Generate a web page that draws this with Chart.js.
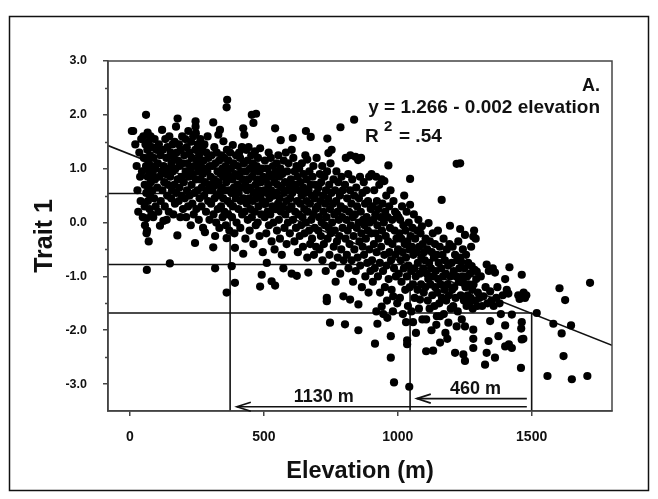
<!DOCTYPE html>
<html><head><meta charset="utf-8">
<script src="https://cdn.jsdelivr.net/npm/chart.js@4.4.1/dist/chart.umd.min.js"></script>
<style>html,body{margin:0;padding:0;background:#fff;}#wrap{position:relative;width:658px;height:499px;}</style>
</head><body><div id="wrap"><canvas id="c" width="658" height="499"></canvas></div>
<script>
// Elevation (m), Trait 1 pairs, grouped by elevation band
const band0 = [[7,1.70],[12,1.70],[20,1.45],[25,1.05],[28,0.60],[31,0.20],[35,1.30],[38,0.85],[40,0.40],[42,1.55],[45,0.95],[48,0.10],[50,1.60],[52,1.20],[55,0.70],[55,0.30],[56,-0.05],[58,1.45],[60,2.00],[60,1.05],[61,0.55],[62,0.08],[62,-0.20],[63,-0.88],[64,-0.15],[65,1.35],[66,1.67],[66,0.85],[67,0.40],[68,1.15],[69,0.65],[70,1.50],[70,-0.35],[72,0.95],[73,0.25],[75,1.25],[75,0.50],[77,1.60],[78,0.75],[80,1.05],[80,0.15],[82,1.40],[84,0.60],[85,0.90],[87,0.10],[88,1.20],[90,0.45],[92,1.55],[93,0.80],[95,1.00],[96,0.30],[98,1.35]];
const band1 = [[102,0.65],[104,1.10],[106,0.20],[108,1.45],[110,0.85],[112,-0.06],[114,1.25],[115,0.40],[118,0.95],[120,1.72],[121,0.60],[123,1.35],[125,0.03],[126,1.05],[128,0.75],[130,0.30],[132,1.55],[134,0.90],[136,1.20],[137,0.05],[139,0.50],[140,1.40],[142,0.70],[144,1.00],[145,0.20],[147,1.60],[149,-0.76],[150,0.85],[152,1.30],[154,0.45],[155,1.10],[157,0.60],[159,1.45],[160,0.95],[162,0.15],[164,1.20],[165,0.70],[167,1.50],[168,0.35],[170,1.00],[172,1.78],[173,0.55],[175,1.30],[177,-0.24],[178,1.93],[178,0.80],[180,1.15],[182,0.40],[183,1.45],[185,0.65],[186,1.05],[188,0.10],[190,1.35],[192,0.85],[194,0.50],[195,1.60],[197,1.10],[198,0.25]];
const band2 = [[201,0.75],[203,1.25],[205,0.45],[207,1.55],[208,0.95],[210,0.10],[212,1.40],[213,0.60],[215,1.10],[217,0.30],[218,1.70],[220,0.85],[222,1.30],[223,0.50],[225,1.00],[227,-0.05],[228,1.50],[230,0.70],[231,1.20],[233,0.35],[235,0.90],[236,1.60],[238,0.15],[240,1.05],[241,0.55],[243,-0.38],[244,1.35],[245,1.88],[245,1.78],[246,1.66],[246,0.80],[248,0.25],[250,1.15],[252,0.60],[253,1.45],[255,0.95],[257,0.05],[258,1.25],[260,0.45],[262,0.80],[263,1.55],[265,1.05],[267,0.30],[268,0.65],[270,1.35],[272,0.90],[273,-0.10],[275,1.15],[277,0.50],[278,1.45],[280,-0.18],[280,0.75],[282,1.00],[284,0.20],[285,1.30],[287,0.60],[289,0.95],[290,1.60],[292,0.40],[293,1.20],[295,0.70],[297,0.05],[298,1.05]];
const band3 = [[301,0.85],[303,0.35],[305,1.25],[307,0.60],[309,1.05],[311,1.86],[311,-0.46],[312,0.15],[314,0.80],[315,1.40],[316,0.45],[318,-0.25],[318,-0.85],[319,1.10],[320,0.70],[322,0.00],[324,1.30],[325,0.50],[327,0.95],[328,0.25],[330,1.63],[331,0.75],[333,1.15],[334,-0.10],[336,1.72],[336,0.55],[338,0.90],[340,0.30],[341,1.25],[343,0.65],[345,1.00],[346,0.10],[348,0.45],[349,1.51],[350,0.85],[352,1.20],[353,0.20],[355,0.60],[357,1.05],[358,-0.05],[360,0.75],[361,2.14],[361,-0.29],[361,-1.30],[362,1.35],[363,2.28],[364,0.40],[365,0.95],[367,0.15],[368,1.15],[370,0.60],[371,-0.15],[372,0.85],[374,1.30],[375,0.35],[377,1.00],[379,0.55],[380,-0.81],[381,0.10],[383,0.80],[384,1.44],[385,0.30],[387,1.10],[388,0.65],[390,-0.20],[392,-0.47],[392,-1.12],[393,0.90],[395,0.45],[396,1.25],[398,0.00]];
const band4 = [[401,0.70],[403,1.05],[405,0.25],[406,0.55],[408,1.30],[409,0.85],[411,1.20],[412,-0.10],[414,0.40],[415,0.95],[417,0.65],[418,1.40],[419,0.15],[421,0.80],[423,1.75],[423,-0.58],[424,0.45],[425,1.10],[427,1.63],[428,0.20],[430,0.70],[431,-0.30],[433,0.95],[434,1.35],[436,0.35],[437,0.60],[439,1.15],[440,0.05],[442,0.80],[443,1.40],[445,0.45],[447,-0.15],[448,1.00],[450,0.25],[451,0.65],[453,1.25],[455,2.00],[455,0.10],[456,0.85],[458,0.40],[459,1.10],[461,1.85],[461,-0.40],[462,0.55],[464,0.95],[466,0.20],[467,1.32],[469,0.70],[470,-0.05],[471,2.02],[472,0.45],[473,1.05],[475,0.80],[477,0.00],[478,1.20],[480,0.30],[481,0.60],[483,0.95],[484,-0.25],[486,1.38],[486,-1.19],[487,0.50],[489,0.75],[490,0.15],[492,-0.97],[493,1.00],[495,0.40],[496,-0.55],[498,0.85]];
const band5 = [[501,0.60],[503,0.10],[504,1.15],[506,0.35],[508,0.80],[509,-0.20],[511,-0.75],[511,0.55],[513,1.00],[514,0.20],[516,0.70],[518,1.30],[519,-0.05],[521,0.45],[522,0.90],[524,0.15],[526,1.20],[527,0.60],[529,-1.09],[529,-0.35],[531,0.85],[532,0.30],[534,1.05],[536,0.00],[537,0.50],[539,0.75],[540,-0.50],[542,1.75],[542,-1.17],[543,0.25],[545,0.95],[546,0.55],[548,1.10],[549,-0.15],[551,0.70],[553,0.35],[554,1.25],[556,0.05],[557,0.85],[559,0.45],[560,-0.30],[562,1.00],[563,1.53],[564,0.20],[566,0.65],[567,-0.60],[569,0.90],[571,0.30],[573,-0.85],[574,1.15],[575,0.55],[577,-0.10],[579,0.75],[580,0.15],[582,1.30],[584,0.40],[585,-0.40],[587,0.95],[589,0.60],[590,0.00],[592,1.10],[594,0.25],[595,0.70],[597,-0.20],[598,0.45]];
const band6 = [[601,0.80],[603,0.30],[604,1.35],[604,-0.95],[606,0.55],[608,1.57],[609,0.05],[610,1.20],[612,0.65],[614,-0.35],[615,0.95],[617,0.20],[619,0.70],[620,-0.10],[622,1.05],[623,-0.99],[624,0.40],[626,0.85],[627,-0.55],[629,0.15],[631,0.60],[632,1.00],[634,-0.25],[636,0.35],[637,0.75],[639,-0.05],[641,0.50],[642,1.10],[644,0.10],[646,-0.45],[647,0.65],[649,0.90],[651,0.25],[652,-0.20],[654,0.55],[655,1.25],[657,1.70],[657,0.00],[659,0.40],[660,0.80],[662,1.17],[662,-0.65],[664,0.20],[666,-0.93],[667,0.60],[669,-0.15],[670,0.95],[672,0.35],[673,-0.40],[675,1.59],[675,0.70],[677,0.05],[679,0.50],[680,-0.30],[682,0.85],[684,0.15],[685,1.05],[687,-0.60],[689,0.45],[690,-0.10],[692,0.70],[694,0.25],[695,-0.45],[697,1.20],[698,0.55]];
const band7 = [[701,0.30],[703,-0.15],[704,0.65],[706,0.10],[708,-0.50],[709,0.90],[711,0.40],[713,-0.25],[714,0.75],[716,0.00],[718,1.05],[719,-0.70],[721,0.50],[722,0.20],[724,-0.40],[726,0.85],[727,-0.05],[729,0.35],[731,-0.90],[732,0.60],[734,0.10],[735,-1.40],[735,-1.46],[736,0.95],[737,1.56],[738,-0.30],[740,0.45],[741,1.29],[742,-0.10],[744,0.70],[745,-0.60],[747,-1.86],[747,0.25],[749,1.10],[750,-0.20],[752,0.55],[753,1.35],[755,0.00],[757,-0.80],[758,0.35],[760,0.80],[761,-0.45],[763,0.15],[765,-0.15],[766,0.60],[768,-1.10],[770,0.40],[771,0.95],[773,-0.35],[775,0.20],[776,-0.65],[778,0.75],[780,0.05],[786,1.77],[782,-0.25],[784,0.50],[785,-0.95],[787,0.30],[789,-0.50],[790,0.85],[792,0.10],[794,-0.10],[795,0.60],[797,-1.37],[798,-0.70]];
const band8 = [[801,0.25],[803,-1.89],[803,0.70],[805,-0.30],[806,1.20],[808,0.05],[810,-0.60],[811,0.45],[813,-0.15],[815,0.90],[816,-0.85],[818,0.20],[820,-0.40],[822,-1.43],[822,0.60],[823,1.25],[825,-0.05],[827,0.35],[828,-0.70],[830,0.80],[832,0.10],[833,-1.10],[835,-0.25],[837,1.91],[837,0.50],[838,-0.50],[840,0.15],[842,1.22],[843,-0.90],[845,0.65],[847,-0.10],[848,0.30],[850,-0.65],[852,1.16],[853,-1.52],[853,-2.00],[854,0.00],[855,0.45],[857,-0.35],[859,0.85],[860,-0.80],[862,0.20],[863,1.20],[864,-0.20],[866,-1.20],[868,0.55],[869,-0.45],[871,0.05],[873,0.75],[874,-0.60],[876,-0.05],[878,0.35],[879,-1.00],[881,-0.30],[883,0.60],[884,0.10],[886,-0.75],[888,-0.15],[889,0.40],[891,-1.30],[893,0.85],[894,-0.50],[896,0.00],[898,-0.90],[899,0.25]];
const band9 = [[901,-0.20],[902,0.90],[904,-0.70],[906,0.30],[907,-1.10],[909,0.05],[911,-0.40],[912,0.60],[914,-0.85],[915,-2.25],[916,0.15],[917,-0.20],[919,0.85],[920,-1.65],[921,-0.55],[922,0.40],[924,-1.88],[924,-0.05],[926,-1.00],[928,0.25],[929,-0.30],[931,0.70],[933,-0.75],[934,-1.30],[936,0.10],[938,-0.45],[940,-1.56],[940,0.80],[941,-0.15],[943,0.35],[945,-0.90],[946,-1.70],[948,0.00],[950,0.77],[950,-0.60],[952,-1.20],[953,0.20],[955,-0.25],[957,0.50],[958,-0.80],[960,-1.45],[961,-1.77],[962,0.10],[964,-0.35],[965,1.06],[966,-1.05],[968,0.30],[969,-0.55],[971,-0.10],[973,0.60],[974,-2.11],[974,-2.51],[975,-0.70],[977,-1.25],[979,0.05],[980,-0.40],[982,-1.65],[983,-1.37],[984,0.40],[986,-2.97],[986,-0.85],[988,-0.15],[990,0.20],[991,-0.60],[993,-1.00],[995,-0.30],[997,0.15],[998,-1.50]];
const band10 = [[1001,-0.50],[1003,0.10],[1004,-0.95],[1006,-0.20],[1008,-1.40],[1009,0.05],[1011,-0.70],[1013,-0.30],[1014,-1.10],[1016,0.30],[1018,-0.55],[1019,-1.70],[1021,-0.05],[1023,-0.85],[1024,0.50],[1026,-0.40],[1028,-1.25],[1029,-0.15],[1031,-1.85],[1031,-0.65],[1033,0.20],[1034,-1.00],[1035,-2.19],[1035,-2.26],[1036,-0.35],[1038,-1.55],[1040,-0.80],[1041,0.00],[1043,-3.05],[1043,-0.50],[1045,-1.20],[1046,0.81],[1046,0.33],[1048,-0.25],[1050,-0.90],[1051,-1.65],[1053,-0.45],[1055,-0.10],[1057,-1.85],[1057,-1.15],[1058,-0.60],[1060,0.15],[1062,-0.85],[1063,-1.40],[1065,-0.30],[1067,-1.00],[1068,-2.05],[1070,-0.55],[1072,-0.15],[1074,-1.25],[1075,-0.75],[1077,0.05],[1079,-1.60],[1080,-0.45],[1082,-0.95],[1083,-1.43],[1085,-0.20],[1087,-1.15],[1088,-0.65],[1090,-0.07],[1092,-1.80],[1093,-0.40],[1095,-0.85],[1097,-1.30],[1098,-0.55]];
const band11 = [[1101,-0.70],[1103,-1.20],[1104,-0.30],[1106,-1.80],[1106,-2.39],[1108,-0.95],[1110,-0.50],[1112,-1.45],[1114,-1.05],[1115,-0.01],[1117,-0.75],[1119,-1.60],[1120,-0.35],[1122,-1.15],[1124,-0.85],[1126,-2.00],[1127,-0.55],[1129,-1.35],[1131,-0.20],[1132,-2.38],[1133,-1.00],[1135,-0.65],[1137,-1.55],[1139,-0.40],[1140,-1.20],[1142,-0.90],[1144,-1.90],[1146,-1.74],[1146,-0.60],[1148,-1.30],[1150,-0.15],[1151,-1.05],[1153,-0.75],[1155,-1.50],[1157,-0.45],[1158,-2.23],[1158,-1.74],[1160,-1.15],[1162,-0.85],[1164,0.42],[1165,-1.40],[1167,-0.60],[1169,-1.00],[1171,-0.30],[1172,-1.70],[1174,-1.25],[1176,-0.70],[1178,-2.05],[1179,-0.95],[1181,-1.45],[1183,-0.50],[1185,-2.16],[1186,-1.15],[1188,-0.80],[1189,-1.86],[1191,-1.35],[1193,-0.40],[1195,-0.06],[1196,-1.00],[1198,-1.60]];
const band12 = [[1201,-0.75],[1203,-1.25],[1205,-0.45],[1207,-1.55],[1209,-0.90],[1211,-1.20],[1214,-2.42],[1214,-0.60],[1216,-1.40],[1218,-1.00],[1220,1.09],[1220,-1.93],[1222,-0.70],[1224,-1.65],[1226,-0.35],[1228,-1.10],[1230,-0.85],[1233,1.10],[1233,-0.12],[1233,-0.65],[1235,-1.35],[1237,-0.73],[1239,-1.80],[1241,-1.00],[1243,-0.50],[1245,-1.12],[1245,-2.45],[1247,-1.45],[1249,-0.85],[1251,-0.23],[1251,-1.93],[1251,-2.57],[1253,-1.20],[1255,-0.60],[1257,-1.55],[1259,-1.00],[1261,-1.35],[1263,-0.75],[1265,-1.15],[1267,-1.50],[1270,-0.95],[1272,-1.40],[1274,-0.45],[1276,-0.81],[1278,-1.25],[1280,-1.60],[1282,-0.26],[1282,-1.99],[1282,-2.16],[1282,-2.33],[1283,-1.15],[1285,-0.15],[1287,-0.88],[1289,-1.45],[1291,-0.30],[1293,-1.05],[1295,-0.91],[1297,-1.55],[1299,-1.30]];
const band13 = [[1305,-1.40],[1310,-1.00],[1315,-1.55],[1320,-1.37],[1326,-2.64],[1328,-1.20],[1332,-0.78],[1332,-2.42],[1335,-1.50],[1339,-2.20],[1340,-0.90],[1345,-1.28],[1345,-1.83],[1350,-1.45],[1355,-0.85],[1358,-1.55],[1363,-0.93],[1363,-2.51],[1368,-1.40],[1372,-1.20],[1376,-2.11],[1380,-1.50],[1385,-1.70],[1392,-1.35]];
const band14 = [[1401,-1.05],[1401,-1.91],[1401,-2.30],[1407,-1.25],[1413,-1.32],[1417,-0.83],[1415,-2.26],[1426,-1.71],[1426,-2.33],[1450,-1.35],[1455,-1.42],[1460,-2.70],[1461,-1.97],[1463,-0.97],[1463,-1.85],[1463,-2.17],[1469,-2.16],[1470,-1.30],[1475,-1.40],[1480,-1.35]];
const band15 = [[1519,-1.68],[1559,-2.85],[1581,-1.88],[1604,-1.22],[1612,-2.06],[1619,-2.48],[1625,-1.44],[1647,-1.91],[1650,-2.91],[1708,-2.85],[1718,-1.12]];

const xTicks = [0, 500, 1000, 1500];
const yTicks = [-3, -2, -1, 0, 1, 2, 3];
const xRange = [-82, 1800];
const yRange = [-3.5, 3.0];

// regression line and read-off guide lines
const fitLine = [[-82, 1.43], [1800, -2.28]];
const guideA = [[-82, 0.54], [374, 0.54], [374, -3.5]];
const guideB = [[-82, -0.78], [1046, -0.78], [1046, -3.5]];
const guideC = [[-82, -1.68], [1500, -1.68], [1500, -3.5]];
// arrows: [start, tip] in data units
const arrowLong = [[1482, -3.42], [399, -3.42]];
const arrowShort = [[1482, -3.27], [1071, -3.27]];
const arrowLabels = [["1130 m", 724, -3.42], ["460 m", 1290, -3.27]];

const FONT = "'Liberation Sans', Arial, Helvetica, sans-serif";
const toXY = a => a.map(p => ({x: p[0], y: p[1]}));
const allPts = [].concat(band0, band1, band2, band3, band4, band5, band6, band7, band8, band9, band10, band11, band12, band13, band14, band15);

const lineDs = (d) => ({data: toXY(d), showLine: true, borderColor: '#111', borderWidth: 1.6, pointRadius: 0, fill: false, tension: 0});

const decor = {
  id: 'decor',
  afterDraw(chart) {
    const {ctx, chartArea: a, scales: {x, y}} = chart;
    ctx.save();
    // outer figure frame
    ctx.strokeStyle = '#111'; ctx.lineWidth = 1.5;
    ctx.strokeRect(9.5, 16.5, 639, 474);
    // plot box
    ctx.strokeStyle = '#444'; ctx.lineWidth = 1.5;
    ctx.strokeRect(a.left, a.top, a.right - a.left, a.bottom - a.top);
    // minor y ticks
    ctx.beginPath();
    for (let v = -2.5; v <= 2.5; v += 1) {
      const py = Math.round(y.getPixelForValue(v)) + 0.5;
      ctx.moveTo(a.left - 3, py); ctx.lineTo(a.left, py);
    }
    ctx.stroke();
    // arrowheads
    ctx.strokeStyle = '#111'; ctx.lineWidth = 1.6;
    [arrowLong, arrowShort].forEach(ar => {
      const tx = x.getPixelForValue(ar[1][0]), ty = y.getPixelForValue(ar[1][1]);
      ctx.beginPath();
      ctx.moveTo(tx + 14, ty - 4.5); ctx.lineTo(tx, ty); ctx.lineTo(tx + 14, ty + 4.5);
      ctx.stroke();
    });
    // arrow labels
    ctx.fillStyle = '#111';
    ctx.font = 'bold 18px ' + FONT;
    ctx.textAlign = 'center'; ctx.textBaseline = 'alphabetic';
    arrowLabels.forEach(l => {
      ctx.fillText(l[0], x.getPixelForValue(l[1]), y.getPixelForValue(l[2]) - 5);
    });
    // annotation
    ctx.textAlign = 'right';
    ctx.font = 'bold 18px ' + FONT;
    ctx.fillText('A.', 600, 91);
    ctx.font = 'bold 19px ' + FONT;
    ctx.fillText('y = 1.266 - 0.002 elevation', 600, 113);
    ctx.textAlign = 'left';
    ctx.fillText('R', 365, 142);
    ctx.font = 'bold 15px ' + FONT;
    ctx.fillText('2', 384, 131);
    ctx.font = 'bold 19px ' + FONT;
    ctx.fillText('= .54', 399, 142);
    ctx.restore();
  }
};

new Chart(document.getElementById('c'), {
  type: 'scatter',
  data: {
    datasets: [
      {data: toXY(allPts), pointRadius: 4.1, pointBackgroundColor: '#000', pointBorderWidth: 0, pointBorderColor: '#000', showLine: false},
      lineDs(fitLine), lineDs(guideA), lineDs(guideB), lineDs(guideC),
      lineDs(arrowLong), lineDs(arrowShort)
    ]
  },
  options: {
    responsive: false, animation: false, devicePixelRatio: 1,
    layout: {padding: {left: 0, right: 46, top: 61, bottom: 0}},
    plugins: {legend: {display: false}, tooltip: {enabled: false}},
    scales: {
      x: {
        type: 'linear', min: xRange[0], max: xRange[1],
        afterBuildTicks: s => { s.ticks = xTicks.map(v => ({value: v})); },
        afterFit: s => { s.height = 88; },
        ticks: {color: '#111', font: {family: FONT, size: 14, weight: 'bold'}, padding: 13, callback: v => String(v), maxRotation: 0},
        grid: {drawOnChartArea: false, drawTicks: true, tickLength: 5, color: '#444', lineWidth: 1.5},
        border: {display: true, color: '#444', width: 1.5},
        title: {display: true, text: 'Elevation (m)', color: '#111', font: {family: FONT, size: 23.5, weight: 'bold'}, padding: {top: 0, bottom: 13}}
      },
      y: {
        type: 'linear', min: yRange[0], max: yRange[1],
        afterBuildTicks: s => { s.ticks = yTicks.map(v => ({value: v})); },
        afterFit: s => { s.width = 108; },
        ticks: {color: '#111', font: {family: FONT, size: 12.5, weight: 'bold'}, padding: 16, callback: v => v.toFixed(1)},
        grid: {drawOnChartArea: false, drawTicks: true, tickLength: 5, color: '#444', lineWidth: 1.5},
        border: {display: true, color: '#444', width: 1.5},
        title: {display: true, text: 'Trait 1', color: '#111', font: {family: FONT, size: 25, weight: 'bold'}, padding: {top: 30, bottom: 0}}
      }
    }
  },
  plugins: [decor]
});
</script>
</body></html>
